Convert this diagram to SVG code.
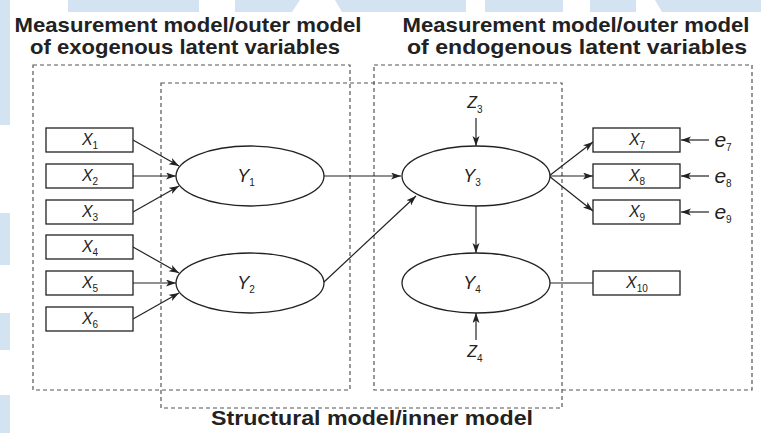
<svg xmlns="http://www.w3.org/2000/svg" width="761" height="433" viewBox="0 0 761 433">
<style>
.title{font-family:"Liberation Sans",Arial,sans-serif;font-weight:bold;font-size:20.5px;fill:#222;text-anchor:middle}
.region{fill:none;stroke:#555;stroke-width:1.2;stroke-dasharray:4 3}
.box{fill:#fff;stroke:#222;stroke-width:1.3}
.lv{fill:#fff;stroke:#222;stroke-width:1.3}
.lbl{font-family:"Liberation Sans",Arial,sans-serif;font-style:italic;fill:#222;text-anchor:middle}
.sub{font-style:normal;font-size:10px}
.edge{stroke:#222;stroke-width:1.2;fill:none}
.wm{fill:#d3e3f1}
</style>
<defs>
<marker id="ah" markerUnits="userSpaceOnUse" markerWidth="11" markerHeight="8" refX="10" refY="3.5" orient="auto">
<path d="M0,0 L10,3.5 L0,7 L2.5,3.5 z" fill="#222"/>
</marker>
</defs>
<rect width="761" height="433" fill="#fff"/>
<g id="watermark">
<rect class="wm" x="0" y="0" width="8" height="12"/>
<rect class="wm" x="68" y="0" width="131" height="12"/>
<polygon class="wm" points="235,0 300,0 292,12 235,12"/>
<polygon class="wm" points="335,0 466,0 466,12 342,12"/>
<rect class="wm" x="485" y="0" width="78" height="12"/>
<rect class="wm" x="590" y="0" width="46" height="12"/>
<polygon class="wm" points="655,0 761,0 761,12 662,12"/>
<rect class="wm" x="0" y="0" width="10" height="125"/>
<rect class="wm" x="0" y="213" width="10" height="52"/>
<rect class="wm" x="0" y="313" width="10" height="37"/>
<rect class="wm" x="0" y="395" width="10" height="38"/>
</g>
<g id="titles">
<text class="title" x="188" y="32" textLength="347" lengthAdjust="spacingAndGlyphs">Measurement model/outer model</text>
<text class="title" x="185" y="54" textLength="310" lengthAdjust="spacingAndGlyphs">of exogenous latent variables</text>
<text class="title" x="576" y="32" textLength="347" lengthAdjust="spacingAndGlyphs">Measurement model/outer model</text>
<text class="title" x="577" y="54" textLength="340" lengthAdjust="spacingAndGlyphs">of endogenous latent variables</text>
<text class="title" x="372" y="425" textLength="322" lengthAdjust="spacingAndGlyphs">Structural model/inner model</text>
</g>
<g id="regions">
<rect id="exogenous-region" class="region" x="33" y="65" width="317" height="325"/>
<rect id="structural-region" class="region" x="161" y="83" width="401" height="325"/>
<rect id="endogenous-region" class="region" x="374" y="65" width="378" height="325"/>
</g>
<g id="connectors">
<line class="edge" x1="133" y1="140" x2="179" y2="166" marker-end="url(#ah)"/>
<line class="edge" x1="133" y1="176" x2="176" y2="176" marker-end="url(#ah)"/>
<line class="edge" x1="133" y1="212" x2="179" y2="186" marker-end="url(#ah)"/>
<line class="edge" x1="133" y1="247" x2="179" y2="273" marker-end="url(#ah)"/>
<line class="edge" x1="133" y1="283" x2="176" y2="283" marker-end="url(#ah)"/>
<line class="edge" x1="133" y1="319" x2="179" y2="293" marker-end="url(#ah)"/>
<line class="edge" x1="324" y1="176" x2="401" y2="176" marker-end="url(#ah)"/>
<line class="edge" x1="324" y1="282" x2="416" y2="196" marker-end="url(#ah)"/>
<line class="edge" x1="476" y1="118" x2="476" y2="146" marker-end="url(#ah)"/>
<line class="edge" x1="476" y1="206" x2="476" y2="253" marker-end="url(#ah)"/>
<line class="edge" x1="476" y1="340" x2="476" y2="313" marker-end="url(#ah)"/>
<line class="edge" x1="549" y1="176" x2="593" y2="142" marker-end="url(#ah)"/>
<line class="edge" x1="549" y1="176" x2="593" y2="176" marker-end="url(#ah)"/>
<line class="edge" x1="549" y1="176" x2="593" y2="211" marker-end="url(#ah)"/>
<line class="edge" x1="549" y1="283" x2="593" y2="283"/>
<line class="edge" x1="709" y1="140" x2="681" y2="140" marker-end="url(#ah)"/>
<line class="edge" x1="709" y1="176" x2="681" y2="176" marker-end="url(#ah)"/>
<line class="edge" x1="709" y1="212" x2="681" y2="212" marker-end="url(#ah)"/>
</g>
<g id="x1"><rect class="box" x="46" y="128" width="87" height="24"/><text class="lbl" x="90" y="145" font-size="16">X<tspan class="sub" dy="4">1</tspan></text></g>
<g id="x2"><rect class="box" x="46" y="164" width="87" height="24"/><text class="lbl" x="90" y="181" font-size="16">X<tspan class="sub" dy="4">2</tspan></text></g>
<g id="x3"><rect class="box" x="46" y="200" width="87" height="24"/><text class="lbl" x="90" y="217" font-size="16">X<tspan class="sub" dy="4">3</tspan></text></g>
<g id="x4"><rect class="box" x="46" y="235" width="87" height="24"/><text class="lbl" x="90" y="252" font-size="16">X<tspan class="sub" dy="4">4</tspan></text></g>
<g id="x5"><rect class="box" x="46" y="271" width="87" height="24"/><text class="lbl" x="90" y="288" font-size="16">X<tspan class="sub" dy="4">5</tspan></text></g>
<g id="x6"><rect class="box" x="46" y="307" width="87" height="24"/><text class="lbl" x="90" y="324" font-size="16">X<tspan class="sub" dy="4">6</tspan></text></g>
<g id="Y1"><ellipse class="lv" cx="250" cy="176" rx="74" ry="30"/><text class="lbl" x="246" y="182" font-size="18">Y<tspan class="sub" dy="4">1</tspan></text></g>
<g id="Y2"><ellipse class="lv" cx="250" cy="283" rx="74" ry="30"/><text class="lbl" x="246" y="289" font-size="18">Y<tspan class="sub" dy="4">2</tspan></text></g>
<g id="Y3"><ellipse class="lv" cx="476" cy="176" rx="74" ry="30"/><text class="lbl" x="472" y="182" font-size="18">Y<tspan class="sub" dy="4">3</tspan></text></g>
<g id="Y4"><ellipse class="lv" cx="476" cy="283" rx="74" ry="30"/><text class="lbl" x="472" y="289" font-size="18">Y<tspan class="sub" dy="4">4</tspan></text></g>
<g id="x7"><rect class="box" x="593" y="128" width="87" height="24"/><text class="lbl" x="637" y="145" font-size="16">X<tspan class="sub" dy="4">7</tspan></text></g>
<g id="x8"><rect class="box" x="593" y="164" width="87" height="24"/><text class="lbl" x="637" y="181" font-size="16">X<tspan class="sub" dy="4">8</tspan></text></g>
<g id="x9"><rect class="box" x="593" y="200" width="87" height="24"/><text class="lbl" x="637" y="217" font-size="16">X<tspan class="sub" dy="4">9</tspan></text></g>
<g id="x10"><rect class="box" x="593" y="271" width="87" height="24"/><text class="lbl" x="637" y="288" font-size="16">X<tspan class="sub" dy="4">10</tspan></text></g>
<g id="e7"><text class="lbl" x="723" y="147" font-size="21">e<tspan class="sub" dy="4">7</tspan></text></g>
<g id="e8"><text class="lbl" x="723" y="183" font-size="21">e<tspan class="sub" dy="4">8</tspan></text></g>
<g id="e9"><text class="lbl" x="723" y="219" font-size="21">e<tspan class="sub" dy="4">9</tspan></text></g>
<g id="z3"><text class="lbl" x="475" y="108" font-size="16">Z<tspan class="sub" dy="5">3</tspan></text></g>
<g id="z4"><text class="lbl" x="475" y="357" font-size="16">Z<tspan class="sub" dy="5">4</tspan></text></g>
</svg>
